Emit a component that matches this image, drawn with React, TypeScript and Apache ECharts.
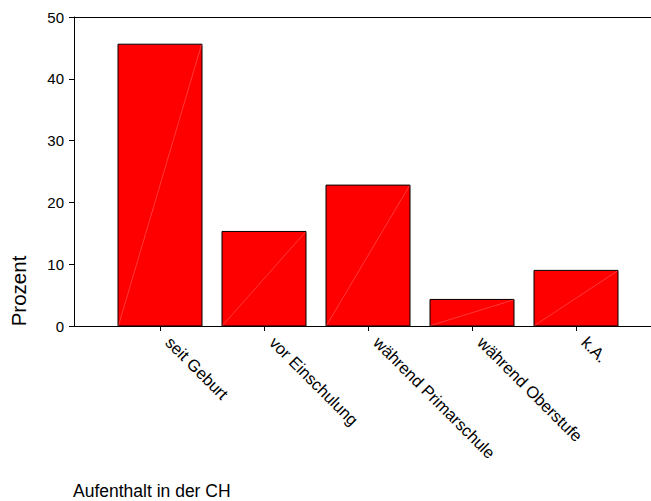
import React, { useEffect, useRef } from "react";
import * as echarts from "echarts";

const categories = [
  "seit Geburt",
  "vor Einschulung",
  "während Primarschule",
  "während Oberstufe",
  "k.A.",
];
const values = [45.6, 15.3, 22.8, 4.3, 9.0];
const yTicks = { min: 0, max: 50, interval: 10 };
const yTitle = "Prozent";
const xTitle = "Aufenthalt in der CH";

const FONT = "'Liberation Sans', Arial, sans-serif";

export default function App() {
  const ref = useRef<HTMLDivElement>(null);

  useEffect(() => {
    if (!ref.current) return;
    const chart = echarts.init(ref.current, undefined, { renderer: "svg" });
    const BAR_W = 84;
    const option: any = {
      animation: false,
      backgroundColor: "#ffffff",
      textStyle: { fontFamily: FONT },
      grid: [
        { left: 74, top: 17, right: 0, height: 309, containLabel: false },
        { left: 108, top: 17, width: 520, height: 309, containLabel: false },
      ],
      xAxis: [
        {
          type: "value",
          gridIndex: 0,
          min: 0,
          max: 1,
          position: "bottom",
          axisLine: { show: true, lineStyle: { color: "#000", width: 1 } },
          axisTick: { show: false },
          axisLabel: { show: false },
          splitLine: { show: false },
        },
        {
          type: "value",
          gridIndex: 0,
          min: 0,
          max: 1,
          position: "top",
          axisLine: { show: true, onZero: false, lineStyle: { color: "#000", width: 1 } },
          axisTick: { show: false },
          axisLabel: { show: false },
          splitLine: { show: false },
        },
        {
          type: "category",
          gridIndex: 1,
          data: categories,
          boundaryGap: true,
          axisLine: { show: false },
          axisTick: {
            show: true,
            alignWithLabel: true,
            length: 5,
            lineStyle: { color: "#000", width: 1 },
          },
          axisLabel: {
            show: true,
            interval: 0,
            rotate: -45,
            margin: 5,
            padding: [0, 0, 0, 12],
            color: "#000",
            fontSize: 16.5,
            fontFamily: FONT,
          },
          splitLine: { show: false },
        },
      ],
      yAxis: [
        {
          type: "value",
          gridIndex: 0,
          min: yTicks.min,
          max: yTicks.max,
          interval: yTicks.interval,
          axisLine: { show: true, lineStyle: { color: "#000", width: 1 } },
          axisTick: { show: true, length: 5, lineStyle: { color: "#000", width: 1 } },
          axisLabel: { color: "#000", fontSize: 15, margin: 10, fontFamily: FONT },
          splitLine: { show: false },
        },
        {
          type: "value",
          gridIndex: 1,
          min: yTicks.min,
          max: yTicks.max,
          show: false,
          splitLine: { show: false },
        },
      ],
      series: [
        {
          type: "custom",
          xAxisIndex: 2,
          yAxisIndex: 1,
          data: values.map((v, i) => [i, v]),
          renderItem: (params: any, api: any) => {
            const idx = api.value(0);
            const v = api.value(1);
            const top = api.coord([idx, v]);
            const bottom = api.coord([idx, 0]);
            const x0 = top[0] - BAR_W / 2;
            const x1 = top[0] + BAR_W / 2;
            return {
              type: "group",
              children: [
                {
                  type: "rect",
                  shape: { x: x0, y: top[1], width: BAR_W, height: bottom[1] - top[1] },
                  style: { fill: "#ff0000", stroke: "#000", lineWidth: 1 },
                },
                {
                  type: "line",
                  shape: { x1: x0 + 0.5, y1: bottom[1] - 0.5, x2: x1 - 0.5, y2: top[1] + 0.5 },
                  style: { stroke: "rgba(255,160,160,0.6)", lineWidth: 0.6 },
                },
              ],
            };
          },
        },
      ],
      graphic: [
        {
          type: "text",
          x: 18.5,
          y: 291,
          rotation: Math.PI / 2,
          style: {
            text: yTitle,
            fill: "#000",
            fontSize: 20.5,
            fontFamily: FONT,
            align: "center",
            verticalAlign: "middle",
          },
        },
        {
          type: "text",
          x: 73,
          y: 491,
          style: {
            text: xTitle,
            fill: "#000",
            fontSize: 17.5,
            fontFamily: FONT,
            align: "left",
            verticalAlign: "middle",
          },
        },
      ],
    };
    chart.setOption(option);
    return () => chart.dispose();
  }, []);

  return (
    <div
      ref={ref}
      style={{ position: "fixed", left: 0, top: 0, width: 651, height: 501 }}
    />
  );
}
